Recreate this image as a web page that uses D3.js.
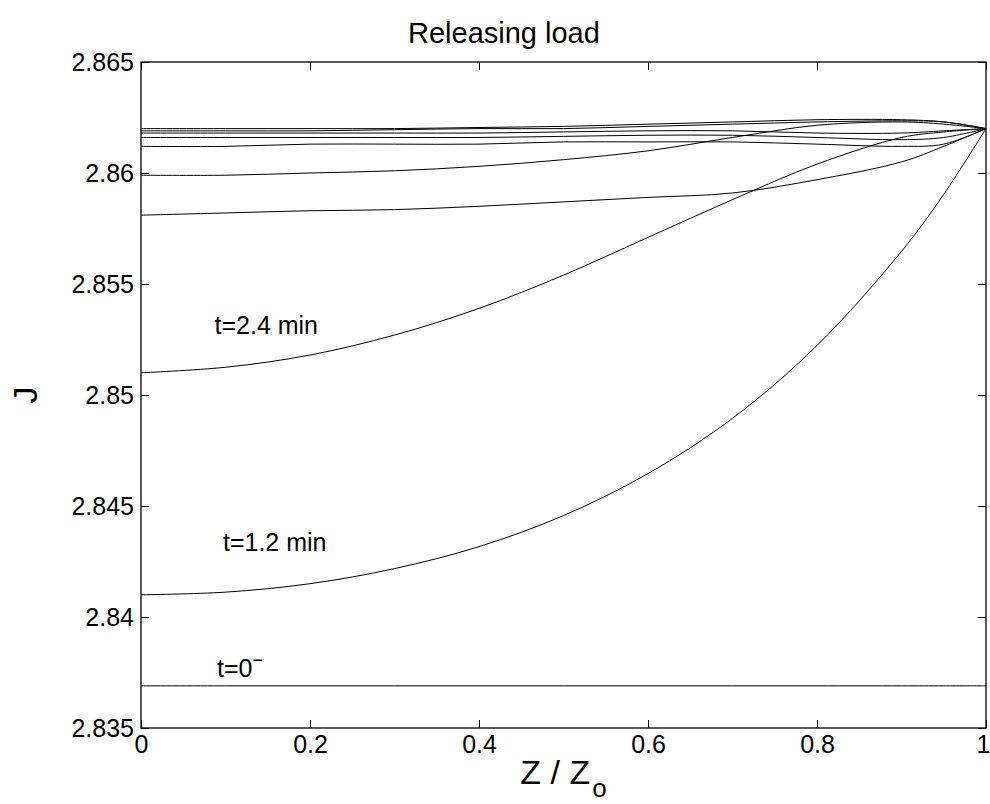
<!DOCTYPE html>
<html>
<head>
<meta charset="utf-8">
<script src="https://cdn.jsdelivr.net/npm/d3@7"></script>
<style>
  body { margin: 0; background: #fff; }
  svg { display: block; }
  text { font-family: "Liberation Sans", Arial, Helvetica, sans-serif; fill: #000; }
</style>
</head>
<body>
<div id="chart"></div>
<script>
// positions along the bar, Z / Zo
const zPos = [0, 0.1, 0.2, 0.3, 0.4, 0.5, 0.6, 0.7, 0.8, 0.9, 0.95, 1];

// J profiles (one per time step)
const jT0   = [2.8369, 2.8369, 2.8369, 2.8369, 2.8369, 2.8369, 2.8369, 2.8369, 2.8369, 2.8369, 2.8369, 2.8369];
const jT12  = [2.8410, 2.84112, 2.8415, 2.84218, 2.84317, 2.84457, 2.84646, 2.84895, 2.85223, 2.85647, 2.85904, 2.8620];
const jT24  = [2.8510, 2.85125, 2.8518, 2.8527, 2.8539, 2.8554, 2.8571, 2.8588, 2.8604, 2.8616, 2.86185, 2.8620];
const jT36  = [2.8581, 2.8582, 2.8583, 2.85835, 2.8585, 2.8587, 2.8589, 2.8591, 2.8597, 2.8605, 2.8612, 2.8620];
const jT48  = [2.8599, 2.8599, 2.8600, 2.8601, 2.8603, 2.8606, 2.8610, 2.8616, 2.86215, 2.8623, 2.8622, 2.8620];
const jT60  = [2.8612, 2.8612, 2.8613, 2.8613, 2.8613, 2.8614, 2.8614, 2.8614, 2.8613, 2.8612, 2.8613, 2.8620];
const jT72  = [2.8616, 2.8616, 2.8616, 2.8616, 2.8616, 2.86165, 2.8617, 2.8617, 2.8616, 2.8615, 2.8616, 2.8620];
const jT84  = [2.8618, 2.8618, 2.8618, 2.8618, 2.8618, 2.86185, 2.8619, 2.8619, 2.8618, 2.8618, 2.8619, 2.8620];
const jT96  = [2.8619, 2.8619, 2.8619, 2.86195, 2.8620, 2.8620, 2.8621, 2.8622, 2.8623, 2.86235, 2.8623, 2.8620];
const jT108 = [2.8620, 2.8620, 2.8620, 2.8620, 2.86205, 2.8621, 2.8622, 2.8623, 2.8624, 2.8624, 2.8623, 2.8620];

const profiles = [jT0, jT12, jT24, jT36, jT48, jT60, jT72, jT84, jT96, jT108];

const xTicks = [0, 0.2, 0.4, 0.6, 0.8, 1];
const yTicks = [2.835, 2.84, 2.845, 2.85, 2.855, 2.86, 2.865];

// curve annotations: text, z, J
const notes = [
  { text: "t=2.4 min", z: 0.087, j: 2.85274 },
  { text: "t=1.2 min", z: 0.097, j: 2.84299 },
  { text: "t=0", z: 0.09, j: 2.83729, sup: "\u2212" }
];

const W = 990, H = 804;
const margin = { top: 62, right: 4, bottom: 76, left: 141 },
    width = W - margin.left - margin.right,
    height = H - margin.top - margin.bottom;

const root = d3.select("#chart")
    .append("svg")
    .attr("width", W)
    .attr("height", H);

const svg = root.append("g")
    .attr("transform", `translate(${margin.left}, ${margin.top})`);

const x = d3.scaleLinear().domain([0, 1]).range([0, width]);
const y = d3.scaleLinear().domain([2.835, 2.865]).range([height, 0]);

// bottom / left axes with labels, ticks pointing inward
svg.append("g")
    .attr("transform", `translate(0, ${height})`)
    .style("font-size", "25px")
    .call(d3.axisBottom(x).tickValues(xTicks).tickSize(-8).tickPadding(7)
        .tickFormat(d => String(+d.toFixed(1))))
    .call(g => g.select(".domain").remove())
    .call(g => g.selectAll(".tick:last-of-type text").attr("dx", -3));

svg.append("g")
    .style("font-size", "25px")
    .call(d3.axisLeft(y).tickValues(yTicks).tickSize(-8).tickPadding(7)
        .tickFormat(d => String(+d.toFixed(3))))
    .call(g => g.select(".domain").remove());

// top / right: ticks only
svg.append("g")
    .call(d3.axisTop(x).tickValues(xTicks).tickSize(-8).tickFormat(""))
    .call(g => g.select(".domain").remove());
svg.append("g")
    .attr("transform", `translate(${width}, 0)`)
    .call(d3.axisRight(y).tickValues(yTicks).tickSize(-8).tickFormat(""))
    .call(g => g.select(".domain").remove());

svg.selectAll(".tick line").attr("stroke", "#000").attr("stroke-width", 1);
svg.selectAll(".tick text").attr("fill", "#000").style("font-family", "Liberation Sans, Arial, sans-serif");

// frame
svg.append("rect")
    .attr("width", width)
    .attr("height", height)
    .attr("fill", "none")
    .attr("stroke", "#000")
    .attr("stroke-width", 1.3);

const line = d3.line()
    .x((d, i) => x(zPos[i]))
    .y(d => y(d))
    .curve(d3.curveCatmullRom);

svg.selectAll("path.profile")
    .data(profiles)
    .join("path")
    .attr("class", "profile")
    .attr("d", line)
    .attr("fill", "none")
    .attr("stroke", "#000")
    .attr("stroke-width", 1);

// annotations
notes.forEach(n => {
    const t = svg.append("text")
        .attr("x", x(n.z))
        .attr("y", y(n.j))
        .style("font-size", "25px")
        .text(n.text);
    if (n.sup) {
        t.append("tspan")
            .attr("dy", -11)
            .style("font-size", "18px")
            .text(n.sup);
    }
});

// title and axis labels
root.append("text")
    .attr("x", 408)
    .attr("y", 43)
    .style("font-size", "29px")
    .text("Releasing load");

const xl = root.append("text")
    .attr("x", margin.left + width / 2)
    .attr("y", 784)
    .attr("text-anchor", "middle")
    .style("font-size", "34px")
    .text("Z / Z");
xl.append("tspan")
    .attr("dy", 13)
    .attr("dx", 2)
    .style("font-size", "26px")
    .text("o");

root.append("text")
    .attr("transform", `translate(37, ${margin.top + height / 2}) rotate(-90)`)
    .attr("text-anchor", "middle")
    .style("font-size", "34px")
    .text("J");
</script>
</body>
</html>
